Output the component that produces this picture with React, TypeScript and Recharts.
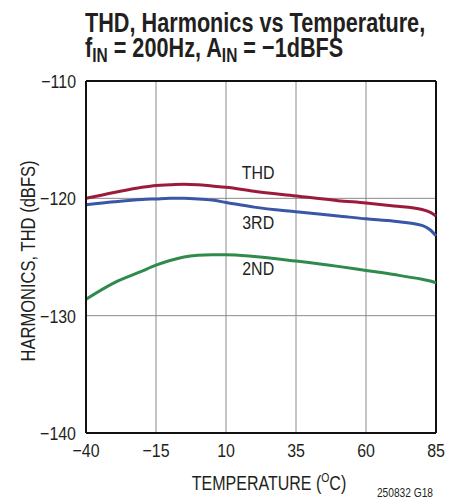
import { LineChart, Line, XAxis, YAxis, CartesianGrid, ReferenceDot, ReferenceLine } from "recharts";

const temps = [-40, -30, -20, -15, -10, -5, 0, 5, 10, 20, 35, 50, 60, 70, 80, 83, 85];
const thd = [-120.0, -119.5, -119.05, -118.9, -118.85, -118.8, -118.85, -118.95, -119.05, -119.4, -119.8, -120.2, -120.4, -120.65, -120.95, -121.2, -121.5];
const third = [-120.55, -120.3, -120.1, -120.05, -120.0, -120.0, -120.05, -120.15, -120.35, -120.75, -121.15, -121.5, -121.75, -121.95, -122.3, -122.7, -123.2];
const second = [-128.6, -127.2, -126.2, -125.7, -125.3, -125.0, -124.85, -124.8, -124.8, -124.95, -125.35, -125.8, -126.15, -126.5, -126.9, -127.05, -127.2];

const xTicks = [-40, -15, 10, 35, 60, 85];
const yTicks = [-140, -130, -120, -110];

const curveLabels = [
  { name: "THD", x: 21.5, y: -117.75 },
  { name: "3RD", x: 21.5, y: -122.0 },
  { name: "2ND", x: 21.5, y: -125.95 },
];

const data = temps.map((t, i) => ({ t, thd: thd[i], third: third[i], second: second[i] }));

// no condensed Helvetica here, so squeeze Liberation Sans horizontally
const FONT = "'Liberation Sans', Arial, sans-serif";
const SQ = 0.84;
const INK = "#231f20";
const minus = (v: number) => (v < 0 ? "\u2212" + Math.abs(v) : String(v));

function CondTick(props: any) {
  const { x, y, payload, textAnchor, dy } = props;
  return (
    <text
      transform={`translate(${x} ${y}) scale(${SQ} 1)`}
      textAnchor={textAnchor}
      dy={dy}
      fill={INK}
      fontSize={19}
      fontFamily={FONT}
    >
      {minus(payload.value)}
    </text>
  );
}

function CondLabel(props: any) {
  const { viewBox, value } = props;
  const cx = viewBox.x + (viewBox.width || 0) / 2;
  const cy = viewBox.y + (viewBox.height || 0) / 2;
  return (
    <text
      transform={`translate(${cx} ${cy}) scale(${SQ} 1)`}
      textAnchor="middle"
      dy="0.36em"
      fill={INK}
      fontSize={19}
      fontFamily={FONT}
    >
      {value}
    </text>
  );
}

export default function App() {
  return (
    <div style={{ position: "absolute", left: 0, top: 0, width: 461, height: 500, background: "#fff" }}>
      <LineChart width={461} height={500} data={data} margin={{ top: 81, right: 25, bottom: 37, left: 0 }}>
        <CartesianGrid stroke="#8a8a8a" strokeWidth={1} />
        <XAxis
          dataKey="t"
          type="number"
          domain={[-40, 85]}
          ticks={xTicks}
          tick={<CondTick dy="0.71em" />}
          tickLine={false}
          axisLine={{ stroke: "#111", strokeWidth: 2 }}
          height={30}
          tickMargin={4}
        />
        <YAxis
          type="number"
          domain={[-140, -110]}
          ticks={yTicks}
          tick={<CondTick dy="0.36em" />}
          tickLine={false}
          axisLine={{ stroke: "#111", strokeWidth: 2 }}
          width={86}
          tickMargin={4}
        />
        <ReferenceLine y={-110} stroke="#111" strokeWidth={2} />
        <ReferenceLine x={85} stroke="#111" strokeWidth={2} />
        <Line type="monotone" dataKey="thd" stroke="#9c1a3c" strokeWidth={3} dot={false} isAnimationActive={false} />
        <Line type="monotone" dataKey="third" stroke="#3a56a6" strokeWidth={3} dot={false} isAnimationActive={false} />
        <Line type="monotone" dataKey="second" stroke="#2f8b4c" strokeWidth={3} dot={false} isAnimationActive={false} />
        {curveLabels.map((c) => (
          <ReferenceDot
            key={c.name}
            x={c.x}
            y={c.y}
            r={0}
            fill="none"
            stroke="none"
            label={<CondLabel value={c.name} />}
          />
        ))}
      </LineChart>
      <svg width={461} height={500} style={{ position: "absolute", left: 0, top: 0, pointerEvents: "none" }}>
        <g fontFamily={FONT} fontWeight="bold" fill={INK}>
          <text transform="translate(85 32) scale(0.774 1)" fontSize={28}>
            THD, Harmonics vs Temperature,
          </text>
          <text transform="translate(85 57) scale(0.774 1)" fontSize={28}>
            f<tspan fontSize={20} dy={5}>IN</tspan>
            <tspan dy={-5}> = 200Hz, A</tspan>
            <tspan fontSize={20} dy={5}>IN</tspan>
            <tspan dy={-5}> = {"\u2212"}1dBFS</tspan>
          </text>
        </g>
        <text
          transform="translate(35 261) rotate(-90) scale(0.85 1)"
          textAnchor="middle"
          fontFamily={FONT}
          fontSize={19.5}
          fill={INK}
        >
          HARMONICS, THD (dBFS)
        </text>
        <text
          transform="translate(269 490) scale(0.8 1)"
          textAnchor="middle"
          fontFamily={FONT}
          fontSize={20}
          fill={INK}
        >
          TEMPERATURE (<tspan fontSize={13} dy={-8}>O</tspan>
          <tspan dy={8}>C)</tspan>
        </text>
        <text
          transform="translate(433 497) scale(0.85 1)"
          textAnchor="end"
          fontFamily={FONT}
          fontSize={12}
          fill={INK}
        >
          250832 G18
        </text>
      </svg>
    </div>
  );
}
